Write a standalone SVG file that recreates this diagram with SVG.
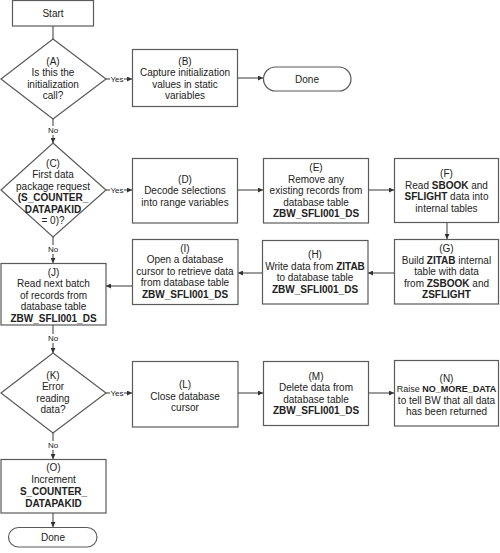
<svg xmlns="http://www.w3.org/2000/svg" width="500" height="553" viewBox="0 0 500 553">
<style>
.b{fill:#fff;stroke:#5a5a5a;stroke-width:1.2}
.t{font-family:"Liberation Sans",Arial,sans-serif;font-size:10px;fill:#222;text-anchor:middle}
.s{font-family:"Liberation Sans",Arial,sans-serif;font-size:8px;fill:#222;text-anchor:middle}
.k{font-weight:bold}
.c{fill:none;stroke:#5a5a5a;stroke-width:1.2}
.lb{fill:#fff}
</style>
<defs>
<marker id="ah" viewBox="0 0 10 10" refX="10" refY="5" markerWidth="5" markerHeight="5" orient="auto" markerUnits="userSpaceOnUse">
<path d="M0,0 L10,5 L0,10 z" fill="#333"/>
</marker>
</defs>
<g id="connectors">
<path class="c" d="M53,26 V39"/>
<path class="c" d="M106,79 H132" marker-end="url(#ah)"/>
<path class="c" d="M237,78 H263" marker-end="url(#ah)"/>
<path class="c" d="M53,119 V143" marker-end="url(#ah)"/>
<path class="c" d="M106,190 H132" marker-end="url(#ah)"/>
<path class="c" d="M237,190 H263" marker-end="url(#ah)"/>
<path class="c" d="M368,190 H394" marker-end="url(#ah)"/>
<path class="c" d="M447,222 V239" marker-end="url(#ah)"/>
<path class="c" d="M394,273 H368" marker-end="url(#ah)"/>
<path class="c" d="M262,273 H238" marker-end="url(#ah)"/>
<path class="c" d="M132,286 H106" marker-end="url(#ah)"/>
<path class="c" d="M53,237 V263" marker-end="url(#ah)"/>
<path class="c" d="M53,325 V353" marker-end="url(#ah)"/>
<path class="c" d="M106,393 H132" marker-end="url(#ah)"/>
<path class="c" d="M238,393 H263" marker-end="url(#ah)"/>
<path class="c" d="M368,393 H394" marker-end="url(#ah)"/>
<path class="c" d="M53,433 V459" marker-end="url(#ah)"/>
<path class="c" d="M53,513 V527" marker-end="url(#ah)"/>
<rect class="lb" x="110" y="74" width="14" height="10"/>
<text class="s" x="117" y="82">Yes</text>
<rect class="lb" x="47" y="126" width="12" height="9"/>
<text class="s" x="53" y="133">No</text>
<rect class="lb" x="110" y="185" width="14" height="10"/>
<text class="s" x="117" y="193">Yes</text>
<rect class="lb" x="47" y="245" width="12" height="9"/>
<text class="s" x="53" y="252">No</text>
<rect class="lb" x="47" y="334" width="12" height="9"/>
<text class="s" x="53" y="341">No</text>
<rect class="lb" x="110" y="388" width="14" height="10"/>
<text class="s" x="117" y="396">Yes</text>
<rect class="lb" x="47" y="441" width="12" height="9"/>
<text class="s" x="53" y="448">No</text>
</g>
<g id="start">
<rect class="b" x="12.5" y="0.5" width="81" height="25.5"/>
<text class="t" x="53" y="16.5">Start</text>
</g>
<g id="A">
<polygon class="b" points="53,39 106,79 53,119 1,79"/>
<text class="t" x="53" y="64.5">(A)</text>
<text class="t" x="53" y="76">Is this the</text>
<text class="t" x="53" y="87.5">initialization</text>
<text class="t" x="53" y="99">call?</text>
</g>
<g id="B">
<rect class="b" x="132.5" y="49.5" width="105" height="57"/>
<text class="t" x="185" y="64.5">(B)</text>
<text class="t" x="185" y="76">Capture initialization</text>
<text class="t" x="185" y="87.5">values in static</text>
<text class="t" x="185" y="99">variables</text>
</g>
<g id="done1">
<rect class="b" x="263.5" y="67" width="87.5" height="24" rx="12"/>
<text class="t" x="307" y="82.5">Done</text>
</g>
<g id="C">
<polygon class="b" points="53,143 106,190 53,237 1,190"/>
<text class="t" x="53" y="166.5">(C)</text>
<text class="t" x="53" y="178">First data</text>
<text class="t" x="53" y="189.5">package request</text>
<text class="t k" x="53" y="201">(S_COUNTER_</text>
<text class="t k" x="53" y="212.5">DATAPAKID</text>
<text class="t" x="53" y="224">= 0)?</text>
</g>
<g id="D">
<rect class="b" x="132.5" y="158.5" width="105" height="64.5"/>
<text class="t" x="185" y="182.5">(D)</text>
<text class="t" x="185" y="194">Decode selections</text>
<text class="t" x="185" y="205.5">into range variables</text>
</g>
<g id="E">
<rect class="b" x="263.5" y="158.5" width="105" height="64.5"/>
<text class="t" x="316" y="171">(E)</text>
<text class="t" x="316" y="182.5">Remove any</text>
<text class="t" x="316" y="194">existing records from</text>
<text class="t" x="316" y="205.5">database table</text>
<text class="t k" x="316" y="217">ZBW_SFLI001_DS</text>
</g>
<g id="F">
<rect class="b" x="394.5" y="158.5" width="104" height="64"/>
<text class="t" x="446.5" y="177">(F)</text>
<text class="t" x="446.5" y="188.5">Read <tspan class="k">SBOOK</tspan> and</text>
<text class="t" x="446.5" y="200"><tspan class="k">SFLIGHT</tspan> data into</text>
<text class="t" x="446.5" y="211.5">internal tables</text>
</g>
<g id="G">
<rect class="b" x="394.5" y="239.5" width="104" height="64.5"/>
<text class="t" x="446.5" y="252">(G)</text>
<text class="t" x="446.5" y="263.5">Build <tspan class="k">ZITAB</tspan> internal</text>
<text class="t" x="446.5" y="275">table with data</text>
<text class="t" x="446.5" y="286.5">from <tspan class="k">ZSBOOK</tspan> and</text>
<text class="t k" x="446.5" y="298">ZSFLIGHT</text>
</g>
<g id="H">
<rect class="b" x="262.5" y="240.5" width="105.5" height="63.5"/>
<text class="t" x="315" y="258">(H)</text>
<text class="t" x="315" y="269.5">Write data from <tspan class="k">ZITAB</tspan></text>
<text class="t" x="315" y="281">to database table</text>
<text class="t k" x="315" y="292.5">ZBW_SFLI001_DS</text>
</g>
<g id="I">
<rect class="b" x="132.5" y="239.5" width="105.5" height="65"/>
<text class="t" x="185" y="251.5">(I)</text>
<text class="t" x="185" y="263">Open a database</text>
<text class="t" x="185" y="274.5">cursor to retrieve data</text>
<text class="t" x="185" y="286">from database table</text>
<text class="t k" x="185" y="297.5">ZBW_SFLI001_DS</text>
</g>
<g id="J">
<rect class="b" x="1" y="263.5" width="105" height="61.5"/>
<text class="t" x="53.5" y="275.5">(J)</text>
<text class="t" x="53.5" y="287">Read next batch</text>
<text class="t" x="53.5" y="298.5">of records from</text>
<text class="t" x="53.5" y="310">database table</text>
<text class="t k" x="53.5" y="321.5">ZBW_SFLI001_DS</text>
</g>
<g id="K">
<polygon class="b" points="53,353 106,393 53,433 1,393"/>
<text class="t" x="53" y="378.5">(K)</text>
<text class="t" x="53" y="390">Error</text>
<text class="t" x="53" y="401.5">reading</text>
<text class="t" x="53" y="413">data?</text>
</g>
<g id="L">
<rect class="b" x="132.5" y="361.5" width="105.5" height="65.5"/>
<text class="t" x="185" y="388">(L)</text>
<text class="t" x="185" y="399.5">Close database</text>
<text class="t" x="185" y="411">cursor</text>
</g>
<g id="M">
<rect class="b" x="263.5" y="361.5" width="105" height="64"/>
<text class="t" x="316" y="379.5">(M)</text>
<text class="t" x="316" y="391">Delete data from</text>
<text class="t" x="316" y="402.5">database table</text>
<text class="t k" x="316" y="414">ZBW_SFLI001_DS</text>
</g>
<g id="N">
<rect class="b" x="394.5" y="360.5" width="104" height="65.5"/>
<text class="t" x="446.5" y="381.5">(N)</text>
<text class="t" x="446.5" y="392" style="font-size:9px">Raise <tspan class="k">NO_MORE_DATA</tspan></text>
<text class="t" x="446.5" y="403.5">to tell BW that all data</text>
<text class="t" x="446.5" y="415">has been returned</text>
</g>
<g id="O">
<rect class="b" x="1" y="459.5" width="105" height="53.5"/>
<text class="t" x="53.5" y="470.5">(O)</text>
<text class="t" x="53.5" y="482.5">Increment</text>
<text class="t k" x="53.5" y="495">S_COUNTER_</text>
<text class="t k" x="53.5" y="506.5">DATAPAKID</text>
</g>
<g id="done2">
<rect class="b" x="8.5" y="527.5" width="88.5" height="19.5" rx="10"/>
<text class="t" x="53" y="541">Done</text>
</g>
</svg>
